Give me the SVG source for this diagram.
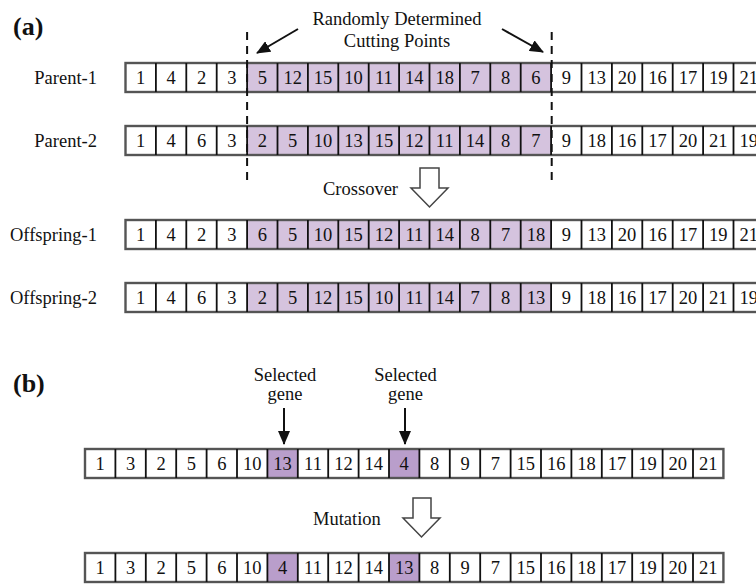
<svg xmlns="http://www.w3.org/2000/svg" xmlns:xlink="http://www.w3.org/1999/xlink" width="756" height="584" viewBox="0 0 756 584">
<style>
text{font-family:"Liberation Serif","Times New Roman",serif;font-size:18.5px;fill:#111}
.c{text-anchor:middle}
.lbl{text-anchor:end}
.ttl{font-weight:bold;font-size:26px}
.outer{fill:none;stroke:#555;stroke-width:2.4}
.div{fill:none;stroke:#111;stroke-width:1.8}
.shA{fill:#d5c3de}
.shB{fill:#b99ecb}
.dash{stroke:#111;stroke-width:2;stroke-dasharray:8 6;fill:none}
.arr{stroke:#111;stroke-width:2;fill:none}
.hollow{fill:#fff;stroke:#444;stroke-width:1.5;stroke-linejoin:miter}
</style>
<defs>
<marker id="ah" markerUnits="userSpaceOnUse" markerWidth="14" markerHeight="12" refX="13" refY="6" orient="auto">
<path d="M0,0 L14,6 L0,12 z" fill="#111"/>
</marker>
<g id="gridA">
<rect class="outer" x="125.5" y="0" width="638.4" height="29"/>
<path class="div" d="M155.9 0v29M186.3 0v29M216.7 0v29M247.1 0v29M277.5 0v29M307.9 0v29M338.3 0v29M368.7 0v29M399.1 0v29M429.5 0v29M459.9 0v29M490.3 0v29M520.7 0v29M551.1 0v29M581.5 0v29M611.9 0v29M642.3 0v29M672.7 0v29M703.1 0v29M733.5 0v29"/>
</g>
<g id="gridB">
<rect class="outer" x="85" y="0" width="638.4" height="29"/>
<path class="div" d="M115.4 0v29M145.8 0v29M176.2 0v29M206.6 0v29M237 0v29M267.4 0v29M297.8 0v29M328.2 0v29M358.6 0v29M389 0v29M419.4 0v29M449.8 0v29M480.2 0v29M510.6 0v29M541 0v29M571.4 0v29M601.8 0v29M632.2 0v29M662.6 0v29M693 0v29"/>
</g>
</defs>

<g id="title-a"><text class="ttl" x="13" y="35">(a)</text></g>
<g id="cut-label">
<text class="c" x="397" y="25">Randomly Determined</text>
<text class="c" x="397" y="47">Cutting Points</text>
</g>

<g id="parent1">
<text class="lbl" x="97" y="83.5">Parent-1</text>
<rect class="shA" x="247.1" y="63" width="304" height="29"/>
<use xlink:href="#gridA" transform="translate(0,63)"/>
<g transform="translate(0,83.5)">
<text class="c" x="140.7">1</text><text class="c" x="171.1">4</text><text class="c" x="201.5">2</text><text class="c" x="231.9">3</text><text class="c" x="262.3">5</text><text class="c" x="292.7">12</text><text class="c" x="323.1">15</text><text class="c" x="353.5">10</text><text class="c" x="383.9">11</text><text class="c" x="414.3">14</text><text class="c" x="444.7">18</text><text class="c" x="475.1">7</text><text class="c" x="505.5">8</text><text class="c" x="535.9">6</text><text class="c" x="566.3">9</text><text class="c" x="596.7">13</text><text class="c" x="627.1">20</text><text class="c" x="657.5">16</text><text class="c" x="687.9">17</text><text class="c" x="718.3">19</text><text class="c" x="748.7">21</text>
</g>
</g>

<g id="parent2">
<text class="lbl" x="97" y="146.5">Parent-2</text>
<rect class="shA" x="247.1" y="126" width="304" height="29"/>
<use xlink:href="#gridA" transform="translate(0,126)"/>
<g transform="translate(0,146.5)">
<text class="c" x="140.7">1</text><text class="c" x="171.1">4</text><text class="c" x="201.5">6</text><text class="c" x="231.9">3</text><text class="c" x="262.3">2</text><text class="c" x="292.7">5</text><text class="c" x="323.1">10</text><text class="c" x="353.5">13</text><text class="c" x="383.9">15</text><text class="c" x="414.3">12</text><text class="c" x="444.7">11</text><text class="c" x="475.1">14</text><text class="c" x="505.5">8</text><text class="c" x="535.9">7</text><text class="c" x="566.3">9</text><text class="c" x="596.7">18</text><text class="c" x="627.1">16</text><text class="c" x="657.5">17</text><text class="c" x="687.9">20</text><text class="c" x="718.3">21</text><text class="c" x="748.7">19</text>
</g>
</g>

<g id="crossover">
<text x="323" y="195">Crossover</text>
<polygon class="hollow" points="420,168 439,168 439,188 448,188 429.5,207 411,188 420,188"/>
</g>

<g id="offspring1">
<text class="lbl" x="97" y="240.5">Offspring-1</text>
<rect class="shA" x="247.1" y="220" width="304" height="29"/>
<use xlink:href="#gridA" transform="translate(0,220)"/>
<g transform="translate(0,240.5)">
<text class="c" x="140.7">1</text><text class="c" x="171.1">4</text><text class="c" x="201.5">2</text><text class="c" x="231.9">3</text><text class="c" x="262.3">6</text><text class="c" x="292.7">5</text><text class="c" x="323.1">10</text><text class="c" x="353.5">15</text><text class="c" x="383.9">12</text><text class="c" x="414.3">11</text><text class="c" x="444.7">14</text><text class="c" x="475.1">8</text><text class="c" x="505.5">7</text><text class="c" x="535.9">18</text><text class="c" x="566.3">9</text><text class="c" x="596.7">13</text><text class="c" x="627.1">20</text><text class="c" x="657.5">16</text><text class="c" x="687.9">17</text><text class="c" x="718.3">19</text><text class="c" x="748.7">21</text>
</g>
</g>

<g id="offspring2">
<text class="lbl" x="97" y="303.5">Offspring-2</text>
<rect class="shA" x="247.1" y="283" width="304" height="29"/>
<use xlink:href="#gridA" transform="translate(0,283)"/>
<g transform="translate(0,303.5)">
<text class="c" x="140.7">1</text><text class="c" x="171.1">4</text><text class="c" x="201.5">6</text><text class="c" x="231.9">3</text><text class="c" x="262.3">2</text><text class="c" x="292.7">5</text><text class="c" x="323.1">12</text><text class="c" x="353.5">15</text><text class="c" x="383.9">10</text><text class="c" x="414.3">11</text><text class="c" x="444.7">14</text><text class="c" x="475.1">7</text><text class="c" x="505.5">8</text><text class="c" x="535.9">13</text><text class="c" x="566.3">9</text><text class="c" x="596.7">18</text><text class="c" x="627.1">16</text><text class="c" x="657.5">17</text><text class="c" x="687.9">20</text><text class="c" x="718.3">21</text><text class="c" x="748.7">19</text>
</g>
</g>

<g id="title-b"><text class="ttl" x="13" y="392">(b)</text></g>

<g id="sel1">
<text class="c" x="285" y="381">Selected</text>
<text class="c" x="285" y="400">gene</text>
</g>
<g id="sel2">
<text class="c" x="405.5" y="381">Selected</text>
<text class="c" x="405.5" y="400">gene</text>
</g>

<g id="chromosome-before">
<rect class="shB" x="267.4" y="449" width="30.4" height="29"/>
<rect class="shB" x="389" y="449" width="30.4" height="29"/>
<use xlink:href="#gridB" transform="translate(0,449)"/>
<g transform="translate(0,469.5)">
<text class="c" x="100.2">1</text><text class="c" x="130.6">3</text><text class="c" x="161">2</text><text class="c" x="191.4">5</text><text class="c" x="221.8">6</text><text class="c" x="252.2">10</text><text class="c" x="282.6">13</text><text class="c" x="313">11</text><text class="c" x="343.4">12</text><text class="c" x="373.8">14</text><text class="c" x="404.2">4</text><text class="c" x="434.6">8</text><text class="c" x="465">9</text><text class="c" x="495.4">7</text><text class="c" x="525.8">15</text><text class="c" x="556.2">16</text><text class="c" x="586.6">18</text><text class="c" x="617">17</text><text class="c" x="647.4">19</text><text class="c" x="677.8">20</text><text class="c" x="708.2">21</text>
</g>
</g>

<g id="mutation">
<text x="313" y="525">Mutation</text>
<polygon class="hollow" points="413,498 431,498 431,518 440,518 421.5,537 403,518 413,518"/>
</g>

<g id="chromosome-after">
<rect class="shB" x="267.4" y="553" width="30.4" height="29"/>
<rect class="shB" x="389" y="553" width="30.4" height="29"/>
<use xlink:href="#gridB" transform="translate(0,553)"/>
<g transform="translate(0,573.5)">
<text class="c" x="100.2">1</text><text class="c" x="130.6">3</text><text class="c" x="161">2</text><text class="c" x="191.4">5</text><text class="c" x="221.8">6</text><text class="c" x="252.2">10</text><text class="c" x="282.6">4</text><text class="c" x="313">11</text><text class="c" x="343.4">12</text><text class="c" x="373.8">14</text><text class="c" x="404.2">13</text><text class="c" x="434.6">8</text><text class="c" x="465">9</text><text class="c" x="495.4">7</text><text class="c" x="525.8">15</text><text class="c" x="556.2">16</text><text class="c" x="586.6">18</text><text class="c" x="617">17</text><text class="c" x="647.4">19</text><text class="c" x="677.8">20</text><text class="c" x="708.2">21</text>
</g>
</g>

<g id="connectors">
<path class="dash" d="M247.1 32V186"/>
<path class="dash" d="M551.7 32V186"/>
<path class="arr" d="M298 29L257 53" marker-end="url(#ah)"/>
<path class="arr" d="M502 29L543 52" marker-end="url(#ah)"/>
<path class="arr" d="M284 408V444" marker-end="url(#ah)"/>
<path class="arr" d="M405 408V444" marker-end="url(#ah)"/>
</g>
</svg>
